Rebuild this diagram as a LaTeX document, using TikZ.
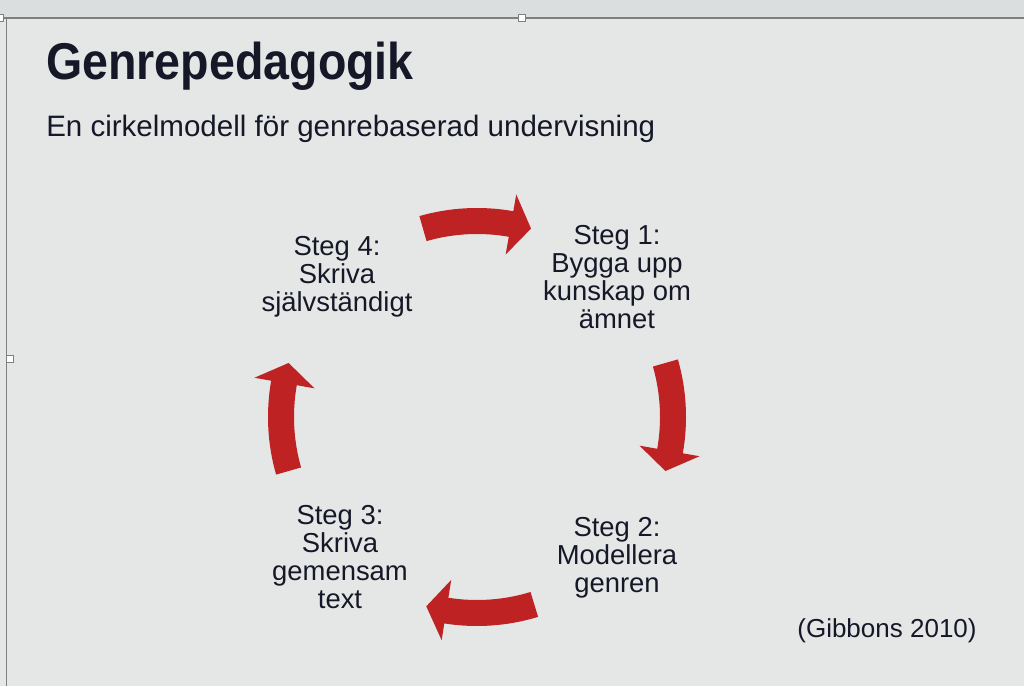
\documentclass[tikz,border=0pt]{standalone}
\usepackage{fontspec}
\setmainfont{Liberation Sans}
\newfontfamily\titlefont{Liberation Sans}[FakeStretch=0.9]
\usepackage{tikz}
\usetikzlibrary{positioning}
\definecolor{slidebg}{RGB}{229,231,231}
\definecolor{topbg}{RGB}{219,222,222}
\definecolor{inkblue}{RGB}{22,24,40}
\definecolor{arrowred}{RGB}{190,34,34}
\definecolor{frameline}{RGB}{125,127,128}

\begin{document}
\begin{tikzpicture}[x=0.025cm,y=0.025cm,
    steptext/.style={align=center,inner sep=0pt,text=inkblue,font=\fontsize{19.5}{20}\selectfont},
    cyclearrow/.style={fill=arrowred},
    handle/.style={draw=frameline,fill=white,line width=0.6pt,minimum size=5pt,inner sep=0pt}]
    \useasboundingbox (0,0) rectangle (1024,686);
    \fill[slidebg] (0,0) rectangle (1024,686);
    \fill[topbg] (0,668) rectangle (1024,686);

    % frame of the text box
    \coordinate (frametl) at (6,668);
    \coordinate (frametr) at (1024,668);
    \coordinate (framebl) at (6,0);
    \draw[frameline,line width=0.8pt] (0,668) -- (frametr);
    \draw[frameline,line width=0.6pt] (frametl) -- (framebl);
    \node[handle] (handlecorner) at (0,668) {};
    \node[handle] (handletop) at (522,668) {};
    \node[handle] (handleleft) at (10,327) {};

    \node [font=\titlefont\bfseries\fontsize{36.8}{40}\selectfont,text=inkblue,anchor=base west,inner sep=0pt] (title) at (46,606) {Genrepedagogik};
    \node [font=\fontsize{21}{24}\selectfont,text=inkblue,anchor=base west,inner sep=0pt] (subtitle) at (46,549) {En cirkelmodell för genrebaserad undervisning};

    \node [steptext] (steg1) at (617,409) {Steg 1:\\Bygga upp\\kunskap om\\ämnet};
    \node [steptext] (steg2) at (617,128) {Steg 2:\\Modellera\\genren};
    \node [steptext] (steg3) at (340,129) {Steg 3:\\Skriva\\gemensam\\text};
    \node [steptext] (steg4) at (337,409) {Steg 4:\\Skriva\\självständigt};

    % the four curved arrows round the circle
    \begin{scope}[shift={(477,269)}]
      \fill [cyclearrow] (106:209) arc[start angle=106,end angle=80,radius=209] -- (80:226) -- (74:196) -- (80:165) -- (80:183) arc[start angle=80,end angle=106,radius=183] -- cycle;
      \fill [cyclearrow] (16:209) arc[start angle=16,end angle=-10,radius=209] -- (-10:226) -- (-16:196) -- (-10:165) -- (-10:183) arc[start angle=-10,end angle=16,radius=183] -- cycle;
      \fill [cyclearrow] (-73:209) arc[start angle=-73,end angle=-99,radius=209] -- (-99:226) -- (-105:196) -- (-99:165) -- (-99:183) arc[start angle=-99,end angle=-73,radius=183] -- cycle;
      \fill [cyclearrow] (196:209) arc[start angle=196,end angle=170,radius=209] -- (170:226) -- (164:196) -- (170:165) -- (170:183) arc[start angle=170,end angle=196,radius=183] -- cycle;
    \end{scope}

    \node [steptext,font=\fontsize{18.5}{20}\selectfont,anchor=base] (source) at (887,49) {(Gibbons 2010)};
\end{tikzpicture}
\end{document}
